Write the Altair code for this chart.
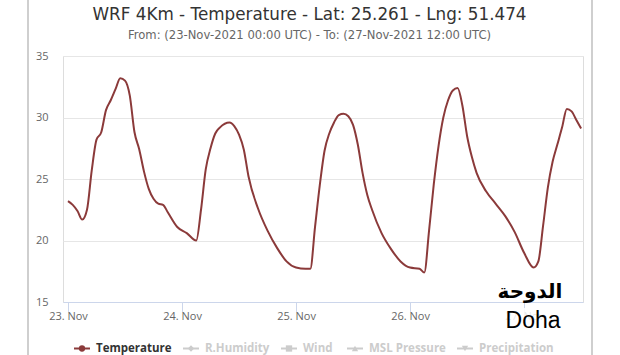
import altair as alt
import pandas as pd

# ---- data ----
hours = [0, 1, 2, 3, 4, 5, 6, 7, 8, 9, 10, 11, 12, 13, 14, 15, 16, 17, 18, 19, 20, 21, 23, 25, 27,
         28, 29, 30, 31, 32, 34, 35, 36, 37, 38, 40, 42, 44, 46, 48, 50, 51,
         52, 53, 54, 55, 56, 57, 58, 59, 60, 61, 62, 63, 64, 66, 68, 70, 72, 74, 75,
         76, 77, 78, 79, 80, 81, 82, 83, 84, 85, 86, 88, 90, 92, 94, 96, 98, 99,
         100, 101, 102, 103, 104, 105, 106, 107, 108]
temps = [23.2, 22.9, 22.4, 21.7, 22.5, 25.7, 28.2, 28.8, 30.6, 31.4, 32.3, 33.2, 33.0, 31.8, 28.8,
         27.4, 25.6, 24.2, 23.4, 23.0, 22.9, 22.3, 21.1, 20.6, 20.0,
         22.5, 25.8, 27.5, 28.7, 29.2, 29.6, 29.3, 28.6, 27.4, 25.2, 22.6, 20.8, 19.4, 18.3, 17.8, 17.7, 17.7,
         21.1, 24.5, 27.3, 28.7, 29.6, 30.2, 30.3, 30.1, 29.4, 27.8, 25.5, 23.7, 22.5, 20.6, 19.3, 18.3, 17.8, 17.7, 17.4,
         20.8, 24.6, 27.7, 30.0, 31.4, 32.2, 32.4, 31.0, 28.5, 26.8, 25.5, 24.0, 23.0, 22.0, 20.7, 19.0, 17.8, 18.3,
         21.2, 24.3, 26.4, 27.8, 29.2, 30.7, 30.5, 29.8, 29.1]
day_ticks = [0, 24, 48, 72, 96]
y_ticks = [15, 20, 25, 30, 35]
series_names = ["Temperature", "R.Humidity", "Wind", "MSL Pressure", "Precipitation"]
title_text = "WRF 4Km - Temperature - Lat: 25.261 - Lng: 51.474"
subtitle_text = "From: (23-Nov-2021 00:00 UTC) - To: (27-Nov-2021 12:00 UTC)"
label_ar = "الدوحة"
label_en = "Doha"

# ---- layout ----
LEFT, TOP = 63, 56
W, H = 520, 246
FONT = "Open Sans"
TFONT = "DejaVu Sans"
LINE_COLOR = "#8b3a3a"


def px(x):
    return x - LEFT


def py(y):
    return y - TOP


df = pd.DataFrame({"hour": hours, "temp": temps})

x_scale = alt.Scale(domain=[-1.05, 108.4], nice=False, zero=False)
y_scale = alt.Scale(domain=[15, 35], nice=False, zero=False)

line = alt.Chart(df).mark_line(color=LINE_COLOR, strokeWidth=2, interpolate="monotone").encode(
    x=alt.X("hour:Q", scale=x_scale,
            axis=alt.Axis(values=day_ticks, labelExpr="(23 + datum.value/24) + '. Nov'",
                          grid=False, domainColor="#ccd6eb", tickColor="#ccd6eb", tickSize=10,
                          labelColor="#666666", labelFontSize=11, labelFont=FONT,
                          labelPadding=-2, title=None)),
    y=alt.Y("temp:Q", scale=y_scale,
            axis=alt.Axis(values=y_ticks, domain=False, ticks=False, gridColor="#e6e6e6",
                          labelColor="#666666", labelFontSize=11, labelFont=FONT,
                          labelPadding=15, title=None)),
)

# ---- title and subtitle ----
titles = pd.DataFrame({"t": [title_text], "s": [subtitle_text]})
title_mark = alt.Chart(titles).mark_text(font=TFONT, fontSize=16.8, color="#333333",
                                         align="center", baseline="alphabetic").encode(
    x=alt.value(px(309.5)), y=alt.value(py(19.5)), text="t:N")
subtitle_mark = alt.Chart(titles).mark_text(font=TFONT, fontSize=11.6, color="#666666",
                                            align="center", baseline="alphabetic").encode(
    x=alt.value(px(309.5)), y=alt.value(py(39)), text="s:N")

# ---- legend (drawn manually, Highcharts style) ----
legend_text_x = [96, 205, 303, 369, 479]
shapes = ["circle", "diamond", "square", "triangle-up", "triangle-down"]
LEG_Y = 348.5
leg = pd.DataFrame({
    "name": series_names,
    "tx": [px(v) for v in legend_text_x],
    "sx": [px(v - 14) for v in legend_text_x],
    "l1": [px(v - 22) for v in legend_text_x],
    "l2": [px(v - 6) for v in legend_text_x],
    "shape": shapes,
    "col": [LINE_COLOR] + ["#cccccc"] * 4,
    "tcol": ["#333333"] + ["#cccccc"] * 4,
})

leg_rules = alt.Chart(leg).mark_rule(strokeWidth=2).encode(
    x=alt.X("l1:Q", scale=None), x2="l2:Q", y=alt.value(py(LEG_Y)),
    color=alt.Color("col:N", scale=None))
leg_pts = alt.Chart(leg).mark_point(filled=True, size=40, opacity=1).encode(
    x=alt.X("sx:Q", scale=None), y=alt.value(py(LEG_Y)),
    shape=alt.Shape("shape:N", scale=None),
    color=alt.Color("col:N", scale=None))
leg_text = alt.Chart(leg).mark_text(align="left", baseline="middle", fontSize=11.5,
                                    fontWeight="bold", font=FONT).encode(
    x=alt.X("tx:Q", scale=None), y=alt.value(py(LEG_Y)), text="name:N",
    color=alt.Color("tcol:N", scale=None))

# ---- frame borders ----
frame_l = alt.Chart(df).mark_rule(color="#cfcfcf", strokeWidth=2).encode(
    x=alt.value(px(28)), y=alt.value(py(0)), y2=alt.value(py(355)))
frame_r = alt.Chart(df).mark_rule(color="#cfcfcf", strokeWidth=2).encode(
    x=alt.value(px(592)), y=alt.value(py(0)), y2=alt.value(py(355)))

# ---- Doha annotation ----
ann = pd.DataFrame({"ar": [label_ar], "en": [label_en]})
doha_bg = alt.Chart(ann).mark_rect(color="white", opacity=0.85).encode(
    x=alt.value(px(500)), x2=alt.value(px(566)), y=alt.value(py(308)), y2=alt.value(py(334)))
ar_text = alt.Chart(ann).mark_text(font="DejaVu Sans", fontWeight="bold", fontSize=20,
                                   color="black", baseline="middle", align="center").encode(
    x=alt.value(px(530)), y=alt.value(py(292)), text="ar:N")
en_text = alt.Chart(ann).mark_text(font="Liberation Sans", fontSize=23,
                                   color="black", baseline="middle", align="center").encode(
    x=alt.value(px(533)), y=alt.value(py(321)), text="en:N")

chart = alt.layer(
    frame_l, frame_r, line, title_mark, subtitle_mark,
    leg_rules, leg_pts, leg_text, doha_bg, ar_text, en_text
).properties(
    width=W, height=H,
    padding={"left": LEFT, "top": TOP, "right": 620 - LEFT - W, "bottom": 355 - TOP - H},
    autosize=alt.AutoSizeParams(type="none"),
).configure_view(stroke=None).configure(background="white")

chart.save("out.html", embed_options={"renderer": "svg", "actions": False})
